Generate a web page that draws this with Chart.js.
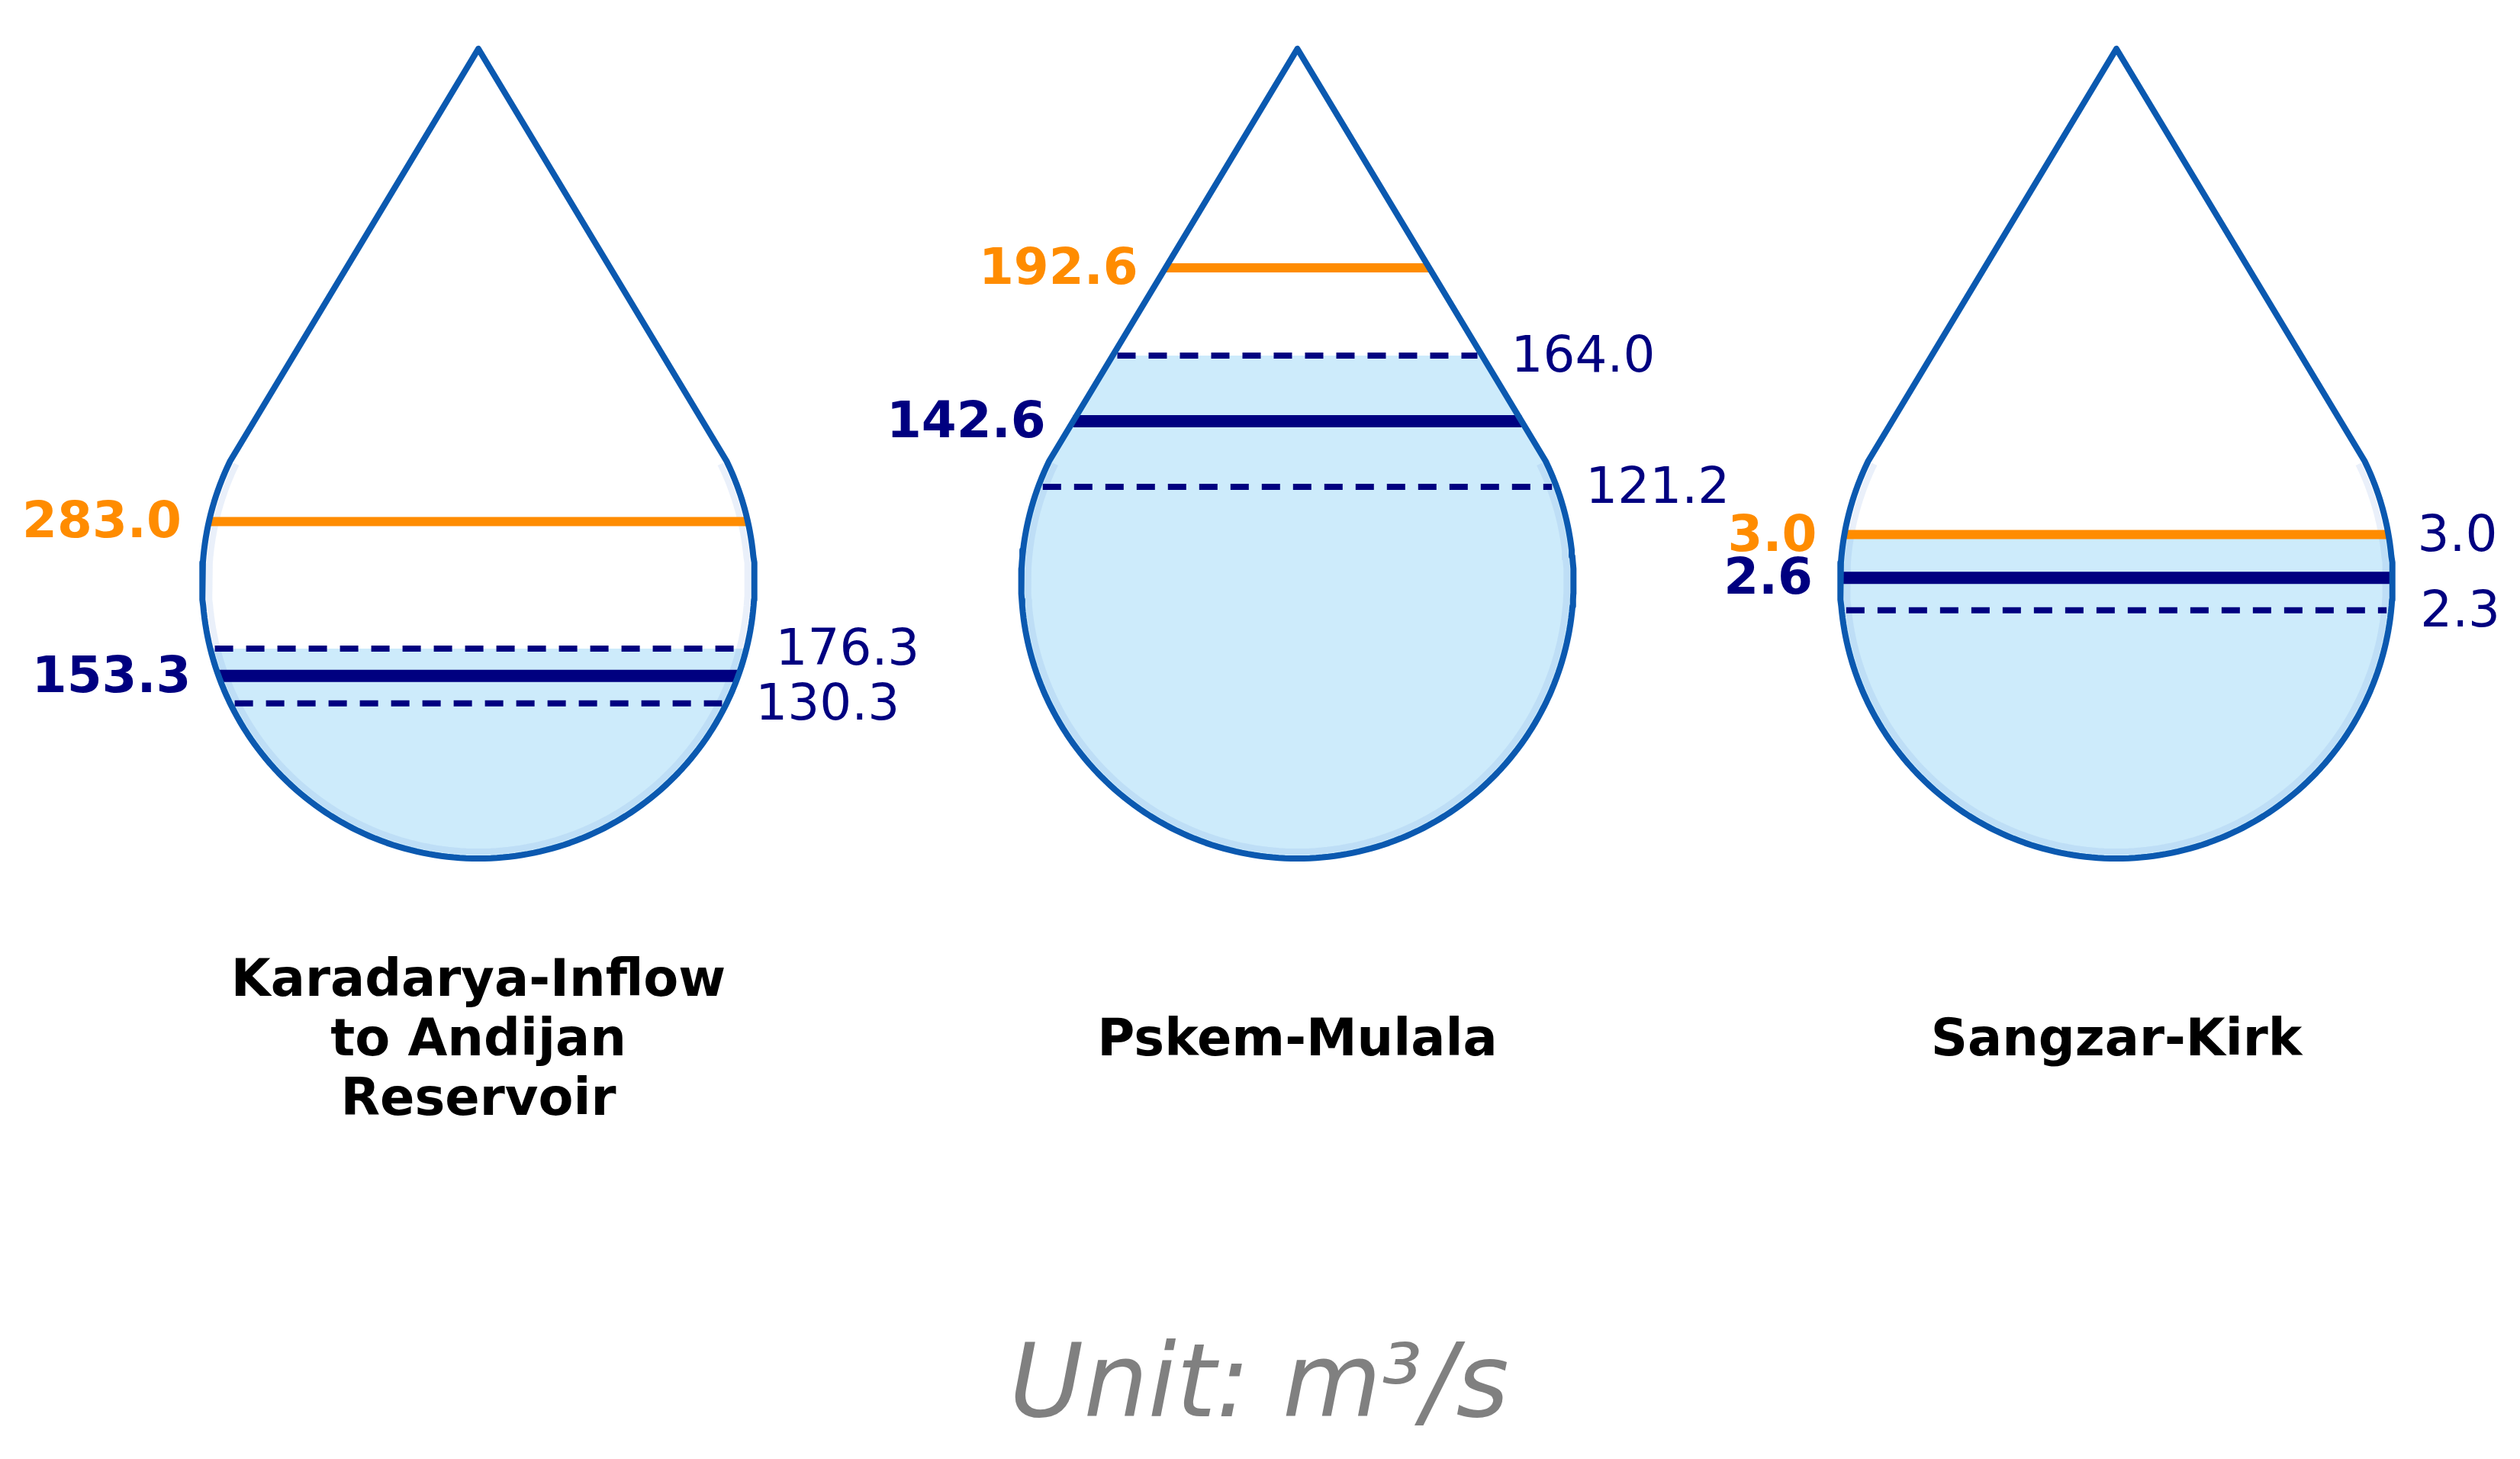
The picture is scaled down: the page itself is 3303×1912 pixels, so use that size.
<!DOCTYPE html>
<html>
<head>
<meta charset="utf-8">
<script src="https://cdn.jsdelivr.net/npm/chart.js@4.4.1/dist/chart.umd.min.js"></script>
<style>
  html, body { margin: 0; padding: 0; background: #fff; overflow: hidden; }
  canvas { display: block; }
</style>
</head>
<body>
<canvas id="drops" width="3303" height="1912"></canvas>
<script>
// values
const stations = [["Karadarya-Inflow", "to Andijan", "Reservoir"], ["Pskem-Mulala"], ["Sangzar-Kirk"]]
const reference = [283.0, 192.6, 3.0]
const forecast = [153.3, 142.6, 2.6]
const forecastHigh = [176.3, 164.0, 3.0]
const forecastLow = [130.3, 121.2, 2.3]
// value that would fill each drop up to its tip
const dropScaleMax = [680, 264, 7.5]
const unitLabel = "Unit: m³/s"

const ORANGE = "#ff8c00"
const NAVY = "#000080"
const EDGE = "#0b59b0"
const WATER = "#cdebfb"

// drop geometry in pixels
const W = 3303, H = 1912
const TOP = 64, BOTTOM = 1125
const FIRST_X = 627, STEP = 1073.5
const RADIUS = 362
const JOINT = 26 * Math.PI / 180

const rx = RADIUS / STEP
const ry = RADIUS / (BOTTOM - TOP)
const cy = ry
const jy = cy + ry * Math.sin(JOINT)
const jx = rx * Math.cos(JOINT)

function halfWidth(frac) {
    if (frac <= jy) {
        const s = Math.max(-1, Math.min(1, (frac - cy) / ry))
        return rx * Math.sqrt(1 - s * s)
    }
    return jx * (1 - frac) / (1 - jy)
}

function arc(i, a0, a1, n, shrink = 0) {
    const pts = []
    const kx = rx - shrink / STEP
    const ky = ry - shrink / (BOTTOM - TOP)
    for (let k = 0; k <= n; k++) {
        const a = a0 + (a1 - a0) * k / n
        pts.push({ x: i + kx * Math.cos(a), y: (cy + ky * Math.sin(a)) * dropScaleMax[i] })
    }
    return pts
}

function outline(i) {
    const pts = arc(i, Math.PI - JOINT, 2 * Math.PI + JOINT, 180)
    pts.push({ x: i, y: dropScaleMax[i] })
    pts.push(pts[0])
    return pts
}

function water(i, value) {
    const frac = value / dropScaleMax[i]
    let pts
    if (frac <= jy) {
        const a = Math.asin((frac - cy) / ry)
        pts = arc(i, Math.PI - a, 2 * Math.PI + a, 180)
    } else {
        const hw = halfWidth(frac)
        pts = [{ x: i - hw, y: value }, ...arc(i, Math.PI - JOINT, 2 * Math.PI + JOINT, 180), { x: i + hw, y: value }]
    }
    pts.push(pts[0])
    return pts
}

function level(i, value, insetPx) {
    const hw = halfWidth(value / dropScaleMax[i]) - insetPx / STEP
    return [{ x: i - hw, y: value }, { x: i + hw, y: value }]
}

// pushed bottom layer first, reversed below because Chart.js paints dataset 0 last
const datasets = []
const yScales = {}
stations.forEach((name, i) => {
    const yAxisID = "y" + i
    yScales[yAxisID] = { type: "linear", display: false, min: 0, max: dropScaleMax[i] }
    datasets.push({ data: water(i, forecastHigh[i]), yAxisID, fill: "shape", backgroundColor: WATER, borderColor: "rgba(0,0,0,0)", borderWidth: 0 })
    datasets.push({ data: arc(i, Math.PI - JOINT, 2 * Math.PI + JOINT, 180, 9), yAxisID, borderColor: "rgba(90,140,215,0.13)", borderWidth: 8 })
    datasets.push({ data: level(i, forecastHigh[i], 6), yAxisID, borderColor: NAVY, borderWidth: 8, borderDash: [24, 17] })
    datasets.push({ data: level(i, forecastLow[i], 6), yAxisID, borderColor: NAVY, borderWidth: 8, borderDash: [24, 17] })
    datasets.push({ data: level(i, forecast[i], 0), yAxisID, borderColor: NAVY, borderWidth: 16 })
    datasets.push({ data: level(i, reference[i], 0), yAxisID, borderColor: ORANGE, borderWidth: 12 })
    datasets.push({ data: outline(i), yAxisID, borderColor: EDGE, borderWidth: 8, borderJoinStyle: "round", borderCapStyle: "round" })
})
datasets.reverse()
for (const ds of datasets) {
    ds.pointRadius = 0
    ds.tension = 0
    ds.clip = false
    if (!ds.borderCapStyle) ds.borderCapStyle = "butt"
    if (ds.fill === undefined) ds.fill = false
}

const labelPlugin = {
    id: "dropLabels",
    afterDatasetsDraw(chart) {
        const ctx = chart.ctx
        const xs = chart.scales.x
        ctx.save()
        ctx.textBaseline = "alphabetic"
        stations.forEach((lines, i) => {
            const ys = chart.scales["y" + i]
            const edge = (v) => halfWidth(v / dropScaleMax[i])
            const put = (v, side, weight, color) => {
                ctx.font = weight + " 66px 'DejaVu Sans'"
                ctx.fillStyle = color
                ctx.textAlign = side < 0 ? "right" : "left"
                const x = xs.getPixelForValue(i + side * edge(v)) + (side < 0 ? -36 : 38)
                ctx.fillText(v.toFixed(1), x, ys.getPixelForValue(v) + 21)
            }
            put(forecastHigh[i], 1, "normal", NAVY)
            put(forecastLow[i], 1, "normal", NAVY)
            put(reference[i], -1, "bold", ORANGE)
            put(forecast[i], -1, "bold", NAVY)

            ctx.font = "bold 67px 'DejaVu Sans'"
            ctx.fillStyle = "#000"
            ctx.textAlign = "center"
            lines.forEach((line, k) => {
                ctx.fillText(line, xs.getPixelForValue(i), 1359 + (k - (lines.length - 1) / 2) * 78 + 24)
            })
        })
        ctx.font = "italic 133px 'DejaVu Sans'"
        ctx.fillStyle = "#808080"
        ctx.textAlign = "center"
        ctx.fillText(unitLabel, W / 2 - 1, 1856)
        ctx.restore()
    }
}

new Chart(document.getElementById("drops").getContext("2d"), {
    type: "line",
    data: { datasets },
    options: {
        responsive: false,
        devicePixelRatio: 1,
        animation: false,
        layout: { padding: { left: 0, right: 0, top: TOP, bottom: H - BOTTOM } },
        plugins: { legend: { display: false }, tooltip: { enabled: false } },
        scales: {
            x: { type: "linear", display: false, min: -FIRST_X / STEP, max: (W - FIRST_X) / STEP },
            ...yScales
        }
    },
    plugins: [labelPlugin]
})
</script>
</body>
</html>
